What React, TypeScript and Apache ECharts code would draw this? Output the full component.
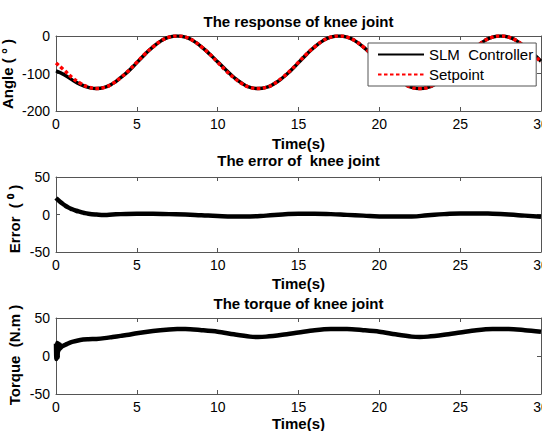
import React, { useEffect, useRef } from "react";
import * as echarts from "echarts";

// ---- data ----
const angleTime = [0, 0.5, 1, 1.5, 2, 2.5, 3, 3.5, 4, 4.5, 5, 5.5, 6, 6.5, 7, 7.5, 8, 8.5, 9, 9.5, 10, 10.5, 11, 11.5, 12, 12.5, 13, 13.5, 14, 14.5, 15, 15.5, 16, 16.5, 17, 17.5, 18, 18.5, 19, 19.5, 20, 20.5, 21, 21.5, 22, 22.5, 23, 23.5, 24, 24.5, 25, 25.5, 26, 26.5, 27, 27.5, 28, 28.5, 29, 29.5, 30];
const setpointAngle = [-72, -91, -111, -126, -136, -140, -137, -127, -111, -92, -70, -48, -29, -13, -3, 0, -3, -13, -29, -48, -70, -92, -111, -127, -137, -140, -137, -127, -111, -92, -70, -48, -29, -13, -3, 0, -3, -13, -29, -48, -70, -92, -111, -127, -137, -140, -137, -127, -111, -92, -70, -48, -29, -13, -3, 0, -3, -13, -29, -48, -70];
const actualAngle = [-93, -103, -117, -129, -137, -140, -137, -127, -111, -93, -71, -49, -29, -13, -3, 0, -3, -13, -29, -48, -69, -90, -110, -126, -137, -140, -137, -127, -112, -93, -71, -49, -29, -13, -3, 0, -3, -13, -29, -48, -69, -90, -110, -126, -137, -140, -137, -127, -112, -93, -71, -49, -29, -13, -3, 0, -3, -13, -29, -47, -67];

const errTime = [0, 0.25, 0.5, 0.75, 1, 1.25, 1.5, 1.75, 2, 2.5, 3, 3.5, 4, 5, 6, 7, 8, 9, 10, 11, 12, 13, 14, 15, 16, 17, 18, 19, 20, 21, 22, 23, 24, 25, 26, 27, 28, 29, 30];
const errVals = [22, 17, 13, 9.5, 7, 5, 3.5, 2, 1, 0, -0.5, 0, 0.5, 1, 1, 0.5, 0, -1, -2, -2.5, -2.5, -1.5, 0, 1, 1, 0.5, -0.5, -1.5, -2.5, -2.5, -2.5, -1, 0.5, 1.5, 1.5, 1, 0, -1.5, -3];

const torqueTime = [0, 0.02, 0.04, 0.06, 0.08, 0.1, 0.12, 0.14, 0.16, 0.18, 0.2, 0.22, 0.24, 0.26, 0.28, 0.3, 0.35, 0.4, 0.5, 0.6, 0.8, 1, 1.5, 2, 2.5, 3, 3.5, 4, 4.5, 5, 6, 7, 7.5, 8, 9, 10, 11, 12, 12.5, 13, 14, 15, 16, 17, 17.5, 18, 19, 20, 21, 22, 22.5, 23, 24, 25, 26, 27, 27.5, 28, 29, 30];
const torqueVals = [16, -4, 15, 2, 17, -2, 14, 6, 16, 8, 12, 9, 15, 10, 12, 11, 12.5, 13, 14, 15, 17, 18.5, 21, 22, 22.5, 23.5, 25, 26.5, 28, 30, 33, 35, 35.5, 35.5, 34, 32, 28.5, 25.5, 25, 25.5, 28, 31, 34, 35.5, 35.5, 35.5, 34, 32, 28.5, 25.5, 25, 25.5, 28, 31, 34, 35.5, 35.5, 35.5, 34, 32];

const titles = ["The response of knee joint", "The error of  knee joint", "The torque of knee joint"];
const yNames = ["Angle ( \u00B0 )", "Error  ( \u2070 )", "Torque  (N.m )"];
const xName = "Time(s)";
const xTicks = { min: 0, max: 30, interval: 5 };
const yRanges = [
  { min: -200, max: 0, interval: 100 },
  { min: -50, max: 50, interval: 50 },
  { min: -50, max: 50, interval: 50 },
];

const FONT = "Arial, 'Liberation Sans', sans-serif";
const FRAME = "#555";

const gridBoxes = [
  { left: 56, top: 36, width: 485, height: 75 },
  { left: 56, top: 177, width: 485, height: 75 },
  { left: 56, top: 318, width: 485, height: 76 },
];
const titleY = [21, 160, 303];
const xNameY = [143, 283, 423.5];
const yNameX = [7, 14, 14];
const yNameY = [74, 219, 355];

const pairs = (t: number[], v: number[]) => t.map((x, i) => [x, v[i]]);

export default function App() {
  const ref = useRef<HTMLDivElement>(null);
  useEffect(() => {
    document.body.style.margin = "0";
    const chart = echarts.init(ref.current!, null, { renderer: "svg" });
    const xAxes: any[] = [];
    const yAxes: any[] = [];
    gridBoxes.forEach((_, i) => {
      xAxes.push({
        type: "value", gridIndex: i, position: "bottom", ...xTicks,
        axisLine: { show: true, onZero: false, lineStyle: { color: FRAME, width: 1 } },
        axisTick: { show: true, inside: true, length: 4, lineStyle: { color: FRAME } },
        axisLabel: { show: true, color: "#000", fontSize: 14, fontFamily: FONT, margin: 6, showMaxLabel: true, showMinLabel: true },
        splitLine: { show: false },
      });
      xAxes.push({
        type: "value", gridIndex: i, position: "top", ...xTicks,
        axisLine: { show: true, onZero: false, lineStyle: { color: FRAME, width: 1 } },
        axisTick: { show: true, inside: true, length: 4, lineStyle: { color: FRAME } },
        axisLabel: { show: false },
        splitLine: { show: false },
      });
      yAxes.push({
        type: "value", gridIndex: i, position: "left", ...yRanges[i],
        axisLine: { show: true, onZero: false, lineStyle: { color: FRAME, width: 1 } },
        axisTick: { show: true, inside: true, length: 4, lineStyle: { color: FRAME } },
        axisLabel: { show: true, color: "#000", fontSize: 14, fontFamily: FONT, margin: 6 },
        splitLine: { show: false },
      });
      yAxes.push({
        type: "value", gridIndex: i, position: "right", ...yRanges[i],
        axisLine: { show: true, onZero: false, lineStyle: { color: FRAME, width: 1 } },
        axisTick: { show: true, inside: true, length: 4, lineStyle: { color: FRAME } },
        axisLabel: { show: false },
        splitLine: { show: false },
      });
    });

    const graphics: any[] = [];
    gridBoxes.forEach((g, i) => {
      const cx = g.left + g.width / 2;
      graphics.push({
        type: "text", x: cx, y: titleY[i], z: 10,
        style: { text: titles[i], font: `bold 15px ${FONT}`, fill: "#000", textAlign: "center", textVerticalAlign: "middle" },
      });
      graphics.push({
        type: "text", x: cx, y: xNameY[i], z: 10,
        style: { text: xName, font: `bold 15px ${FONT}`, fill: "#000", textAlign: "center", textVerticalAlign: "middle" },
      });
      graphics.push({
        type: "text", x: yNameX[i], y: yNameY[i], rotation: Math.PI / 2, z: 10,
        style: { text: yNames[i], font: `bold 15px ${FONT}`, fill: "#000", textAlign: "center", textVerticalAlign: "middle" },
      });
    });

    chart.setOption({
      animation: false,
      backgroundColor: "#fff",
      grid: gridBoxes.map((g) => ({ ...g, containLabel: false, outerBoundsMode: "none" })),
      xAxis: xAxes,
      yAxis: yAxes,
      legend: {
        data: ["SLM  Controller", "Setpoint"],
        orient: "vertical",
        left: 368,
        top: 43,
        padding: [4, 3, 4, 9],
        itemWidth: 46,
        itemHeight: 14,
        itemGap: 5,
        itemStyle: { opacity: 0 },
        backgroundColor: "#fff",
        borderColor: FRAME,
        borderWidth: 1,
        borderRadius: 0,
        textStyle: { fontSize: 15, fontFamily: FONT, color: "#000" },
        z: 20,
      },
      graphic: graphics,
      series: [
        {
          name: "SLM  Controller", type: "line", xAxisIndex: 0, yAxisIndex: 0,
          data: pairs(angleTime, actualAngle), smooth: true, symbol: "none",
          lineStyle: { color: "#000", width: 3.5 }, itemStyle: { color: "#000" },
        },
        {
          name: "Setpoint", type: "line", xAxisIndex: 0, yAxisIndex: 0,
          data: pairs(angleTime, setpointAngle), smooth: true, symbol: "none",
          lineStyle: { color: "#ff0000", width: 3.5, type: [3.5, 2.5] }, itemStyle: { color: "#ff0000" },
        },
        {
          name: "Error", type: "line", xAxisIndex: 2, yAxisIndex: 2,
          data: pairs(errTime, errVals), smooth: true, symbol: "none",
          lineStyle: { color: "#000", width: 4.5 },
        },
        {
          name: "Torque", type: "line", xAxisIndex: 4, yAxisIndex: 4,
          data: pairs(torqueTime, torqueVals), smooth: 0.3, symbol: "none",
          lineStyle: { color: "#000", width: 4.5, join: "round" },
        },
      ],
    });
    return () => chart.dispose();
  }, []);
  return <div ref={ref} style={{ width: 542, height: 431 }} />;
}
